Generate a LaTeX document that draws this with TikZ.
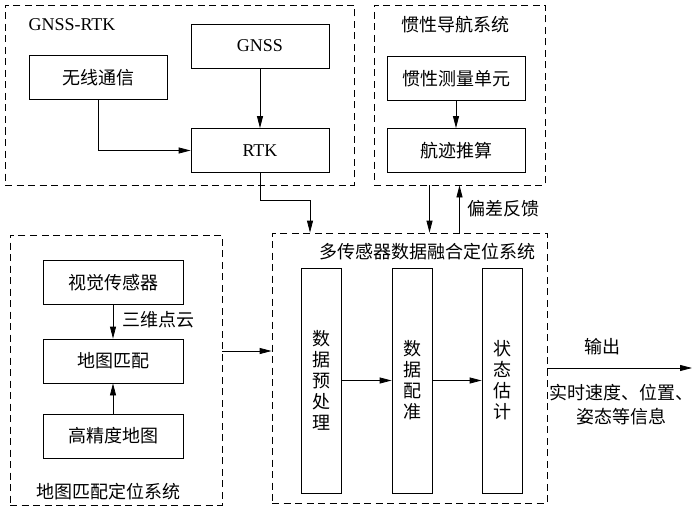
\documentclass[tikz,border=0pt]{standalone}
\usepackage{fontspec}
\setmainfont{Liberation Serif}
\newfontfamily\zhfont{Noto Sans CJK SC}
\usetikzlibrary{arrows.meta,positioning}

\begin{document}
\begin{tikzpicture}[x=1pt, y=-1pt,
  every node/.style={font=\zhfont\fontsize{18}{21}\selectfont},
  box/.style={draw, line width=0.8pt, minimum width=138pt, minimum height=44pt},
  col/.style={draw, line width=0.8pt, minimum width=40pt, minimum height=225pt, align=center},
  group/.style={draw, line width=0.8pt, dash pattern=on 7pt off 4.5pt},
  arr/.style={-{Triangle[length=12pt,width=6pt]}, line width=0.8pt}]
  \useasboundingbox (0,0) rectangle (699,508);

  % GNSS-RTK
  \node[group, minimum width=349pt, minimum height=180pt] (rtkgrp) at (179.5,95) {};
  \node[anchor=west, font=\fontsize{18}{21}\selectfont] (rtktitle) at (25,25) {GNSS-RTK};
  \node[box, font=\fontsize{18}{21}\selectfont] (gnss) at (260,46) {GNSS};
  \node[box] (wireless) at (98,77.5) {无线通信};
  \node[box, font=\fontsize{18}{21}\selectfont] (rtk) at (260,150.5) {RTK};

  % Inertial navigation
  \node[group, minimum width=171pt, minimum height=180pt] (insgrp) at (459.5,95) {};
  \node (institle) at (455,25) {惯性导航系统};
  \node[box] (imu) at (456,78.5) {惯性测量单元};
  \node[box] (dr) at (456,150.5) {航迹推算};

  % Map matching
  \node[group, minimum width=212pt, minimum height=270pt] (mapgrp) at (116,370) {};
  \node[box, minimum width=140pt] (vision) at (113,282.5) {视觉传感器};
  \node[box, minimum width=140pt] (match) at (113,361) {地图匹配};
  \node[box, minimum width=140pt] (hdmap) at (113,436) {高精度地图};
  \node (maptitle) at (108.5,492) {地图匹配定位系统};

  % Fusion
  \node[group, minimum width=275pt, minimum height=270pt] (fusegrp) at (409.5,368) {};
  \node (fusetitle) at (427,252) {多传感器数据融合定位系统};
  \node[col] (pre) at (321,380.5) {数\\据\\预\\处\\理};
  \node[col] (reg) at (412,380.5) {数\\据\\配\\准};
  \node[col] (est) at (502,380.5) {状\\态\\估\\计};

  % Arrows
  \draw[arr] (gnss) -- (rtk);
  \draw[arr] (wireless.south) |- (rtk.west);
  \draw[arr] (imu) -- (dr);
  \draw[arr] (vision) -- (match);
  \draw[arr] (hdmap) -- (match);
  \draw[arr] (pre) -- (reg);
  \draw[arr] (reg) -- (est);

  \coordinate (rtkbend) at (310,200);
  \draw[arr] (rtk.south) |- (rtkbend) -- (rtkbend |- fusegrp.north);
  \draw[arr] ([xshift=-30pt]insgrp.south) -- ([xshift=-30pt]insgrp.south |- fusegrp.north);
  \draw[arr] (insgrp.south |- fusegrp.north) -- (insgrp.south);
  \draw[arr] ([yshift=19pt]mapgrp.east) -- ([yshift=19pt]mapgrp.east -| fusegrp.west);
  \coordinate (out) at (692,368);
  \draw[arr] (fusegrp.east) -- (out);

  % Labels
  \node[anchor=west] (cloud) at (119,320) {三维点云};
  \node[anchor=west] (feedback) at (464,209) {偏差反馈};
  \node (outlabel) at (602,347) {输出};
  \node[align=center, font=\zhfont\fontsize{18}{24}\selectfont] (outinfo) at (621,405) {实时速度、位置、\\姿态等信息};
\end{tikzpicture}
\end{document}
